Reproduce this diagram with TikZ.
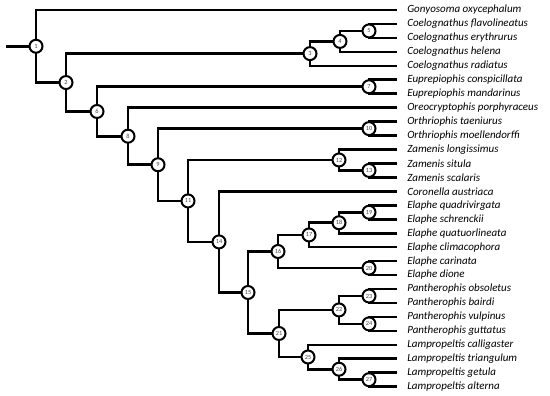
\documentclass[tikz,border=0pt]{standalone}
\usepackage{fontspec}
\setmainfont{Carlito}
\usetikzlibrary{backgrounds}
\definecolor{cnum}{HTML}{4A4A4A}
\tikzset{
  every picture/.style={line width=2.6pt},
  bnode/.style={circle, draw, fill=white, line width=2pt, minimum size=13pt, inner sep=0pt, text=cnum, font=\fontsize{6.3}{6.3}\selectfont},
  tip/.style={anchor=west, inner xsep=9pt, inner ysep=0pt, font=\fontsize{11}{13}\selectfont\itshape},
  branch/.style={draw=black, line width=2.6pt},
}

\begin{document}
\begin{tikzpicture}[x=1pt, y=-13.95pt]
  \useasboundingbox (0,-0.717) rectangle (550,27.67);
  % species at the tips, top to bottom
  \foreach \name [count=\i from 0] in {Gonyosoma oxycephalum, Coelognathus flavolineatus,
      Coelognathus erythrurus, Coelognathus helena, Coelognathus radiatus,
      Euprepiophis conspicillata, Euprepiophis mandarinus, Oreocryptophis porphyraceus,
      Orthriophis taeniurus, Orthriophis moellendorffi, Zamenis longissimus,
      Zamenis situla, Zamenis scalaris, Coronella austriaca, Elaphe quadrivirgata,
      Elaphe schrenckii, Elaphe quatuorlineata, Elaphe climacophora, Elaphe carinata,
      Elaphe dione, Pantherophis obsoletus, Pantherophis bairdi, Pantherophis vulpinus,
      Pantherophis guttatus, Lampropeltis calligaster, Lampropeltis triangulum,
      Lampropeltis getula, Lampropeltis alterna}
    \node[tip] (t\i) at (397,\i) {\name};
  % numbered clades
  \foreach \n/\x/\y in {1/36/2.5996, 2/66/5.1992, 3/310/3.125, 4/340/2.25, 5/369/1.5,
      6/97/7.2734, 7/369/5.5, 8/128/9.0469, 9/158/11.0938, 10/369/8.5, 11/188/13.6875,
      12/339/10.75, 13/369/11.5, 14/219/16.625, 15/248/20.25, 16/278/17.3125,
      17/309/16.125, 18/339/15.25, 19/369/14.5, 20/369/18.5, 21/279/23.1875,
      22/339/21.5, 23/369/20.5, 24/369/22.5, 25/308/24.875, 26/339/25.75, 27/369/26.5}
    \node[bnode] (n\n) at (\x,\y) {\n};
  \coordinate (root) at (6,2.5996);
  \begin{scope}[on background layer]
    \draw[branch] (root) -- (n1.center);
    \foreach \a/\b in {1/t0, 1/n2, 2/n3, 2/n6, 3/n4, 3/t4, 4/n5, 4/t3, 5/t1, 5/t2,
        6/n7, 6/n8, 7/t5, 7/t6, 8/t7, 8/n9, 9/n10, 9/n11, 10/t8, 10/t9, 11/n12, 11/n14,
        12/t10, 12/n13, 13/t11, 13/t12, 14/t13, 14/n15, 15/n16, 15/n21, 16/n17, 16/n20,
        17/n18, 17/t17, 18/n19, 18/t16, 19/t14, 19/t15, 20/t18, 20/t19, 21/n22, 21/n25,
        22/n23, 22/n24, 23/t20, 23/t21, 24/t22, 24/t23, 25/t24, 25/n26, 26/t25, 26/n27,
        27/t26, 27/t27}
      \draw[branch] (n\a.center) |- (\b);
  \end{scope}
\end{tikzpicture}
\end{document}
